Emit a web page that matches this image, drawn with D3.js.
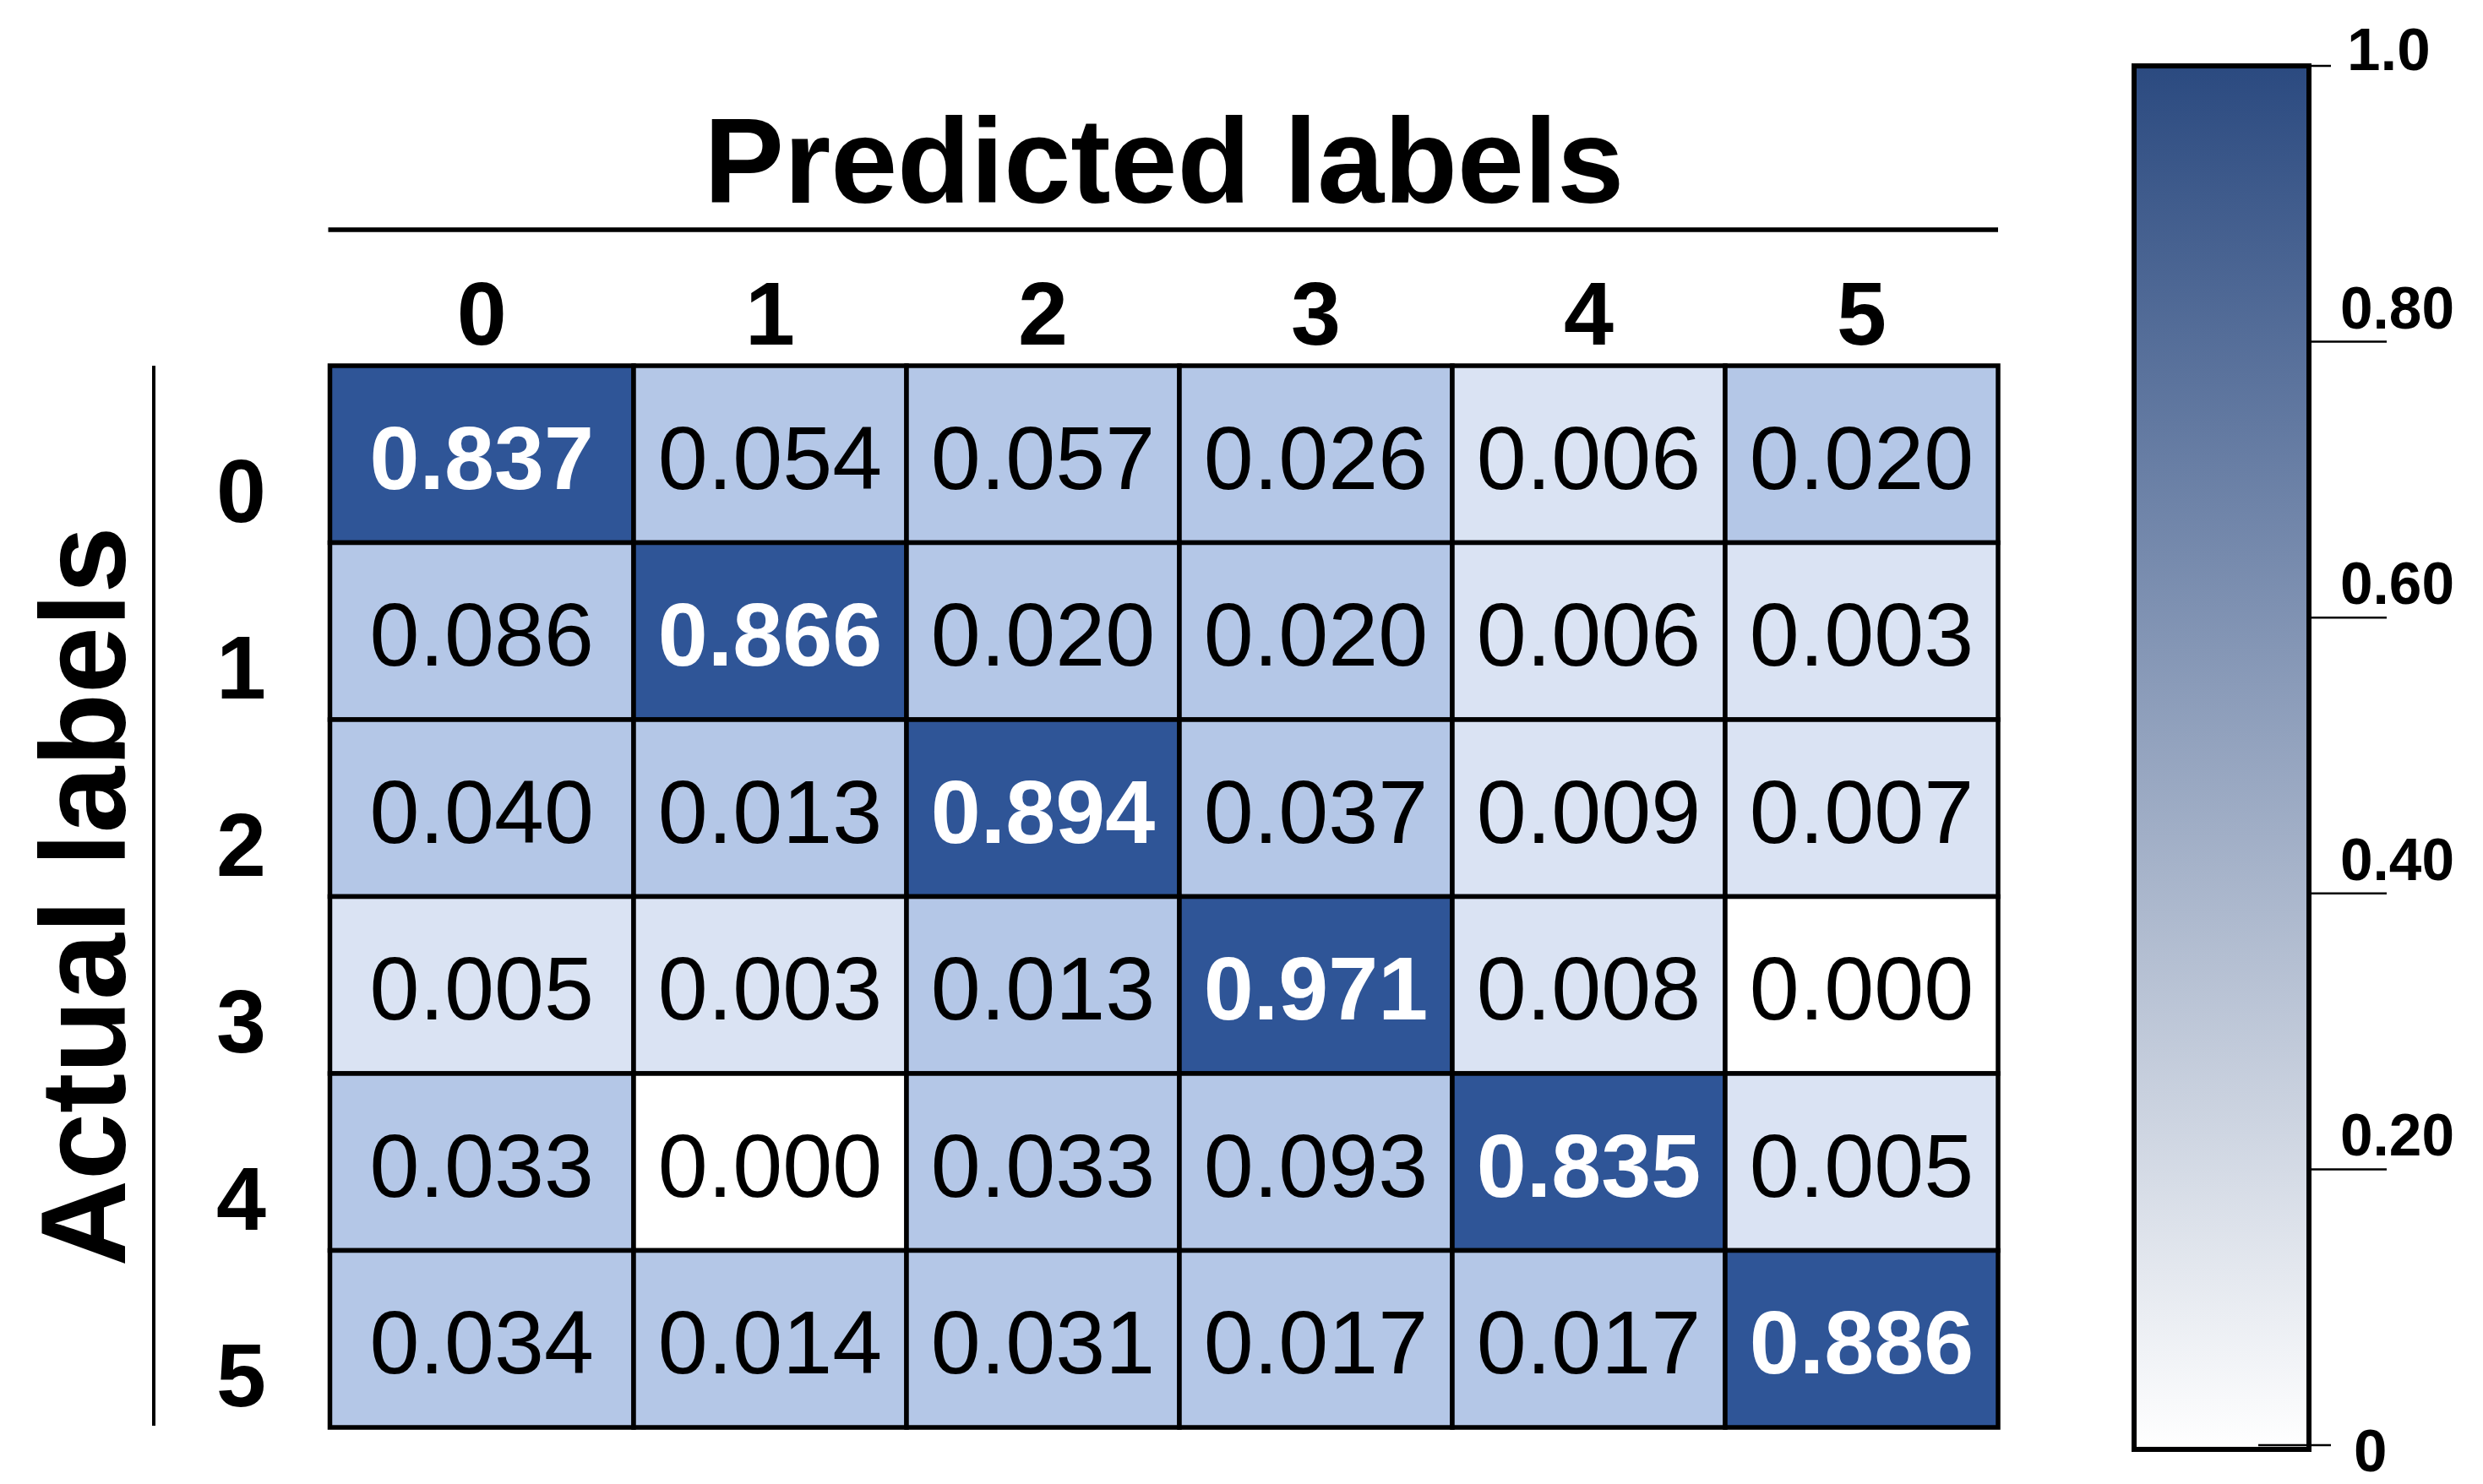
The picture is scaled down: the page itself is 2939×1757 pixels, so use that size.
<!DOCTYPE html>
<html>
<head>
<meta charset="utf-8">
<script src="https://cdn.jsdelivr.net/npm/d3@7"></script>
<style>
  html, body { margin: 0; padding: 0; background: #ffffff; }
  svg { display: block; }
  text { font-family: "Liberation Sans", Arial, sans-serif; }
</style>
</head>
<body>
<script>
// ---------------- data ----------------
const predictedLabels = ["0", "1", "2", "3", "4", "5"];
const actualLabels = ["0", "1", "2", "3", "4", "5"];
const row0 = [0.837, 0.054, 0.057, 0.026, 0.006, 0.020];
const row1 = [0.086, 0.866, 0.020, 0.020, 0.006, 0.003];
const row2 = [0.040, 0.013, 0.894, 0.037, 0.009, 0.007];
const row3 = [0.005, 0.003, 0.013, 0.971, 0.008, 0.000];
const row4 = [0.033, 0.000, 0.033, 0.093, 0.835, 0.005];
const row5 = [0.034, 0.014, 0.031, 0.017, 0.017, 0.886];
const matrixRows = [row0, row1, row2, row3, row4, row5];
const colorbarTicks = [0, 0.2, 0.4, 0.6, 0.8, 1.0];
const colorbarTickLabels = ["0", "0.20", "0.40", "0.60", "0.80", "1.0"];
const xTitle = "Predicted labels";
const yTitle = "Actual labels";

// ---------------- layout ----------------
const W = 2939, H = 1757;
const grid = { left: 390.5, right: 2365, top: 433, bottom: 1690 };
const colWeights = [1.113, 1, 1, 1, 1, 1]; // first column is drawn slightly wider in the reference
const FONT = 106;

const svg = d3.select("body").append("svg").attr("width", W).attr("height", H);

const colStart = d3.cumsum([0].concat(colWeights.slice(0, -1)));
const xLin = d3.scaleLinear().domain([0, d3.sum(colWeights)]).range([grid.left, grid.right]);
const x0 = d3.scaleOrdinal().domain(predictedLabels).range(colStart.map(v => xLin(v)));
const xw = d3.scaleOrdinal().domain(predictedLabels).range(colWeights.map(w => xLin(w) - xLin(0)));
const y = d3.scaleBand().domain(actualLabels).range([grid.top, grid.bottom]);

const color = d3.scaleThreshold()
  .domain([0.0005, 0.01, 0.5])
  .range(["#ffffff", "#dae3f3", "#b4c7e7", "#2f5597"]);

const cells = [];
matrixRows.forEach((r, i) => r.forEach((v, j) => cells.push({ a: actualLabels[i], p: predictedLabels[j], v })));

const g = svg.append("g");
g.selectAll("rect.cell").data(cells).join("rect")
  .attr("class", "cell")
  .attr("x", d => x0(d.p))
  .attr("y", d => y(d.a))
  .attr("width", d => xw(d.p))
  .attr("height", y.bandwidth())
  .attr("fill", d => color(d.v))
  .attr("stroke", "#000")
  .attr("stroke-width", 5.5);

g.selectAll("text.val").data(cells).join("text")
  .attr("class", "val")
  .attr("x", d => x0(d.p) + xw(d.p) / 2)
  .attr("y", d => y(d.a) + y.bandwidth() / 2 + 41)
  .attr("text-anchor", "middle")
  .attr("font-size", FONT)
  .attr("font-weight", d => d.v >= 0.5 ? "bold" : "normal")
  .attr("fill", d => d.v >= 0.5 ? "#ffffff" : "#000000")
  .text(d => d3.format(".3f")(d.v));

// column header labels
svg.selectAll("text.colLab").data(predictedLabels).join("text")
  .attr("class", "colLab")
  .attr("x", d => x0(d) + xw(d) / 2)
  .attr("y", grid.top - 25)
  .attr("text-anchor", "middle")
  .attr("font-size", FONT)
  .attr("font-weight", "bold")
  .text(d => d);

// row labels
svg.selectAll("text.rowLab").data(actualLabels).join("text")
  .attr("class", "rowLab")
  .attr("x", 285.5)
  .attr("y", d => y(d) + y.bandwidth() / 2 + 80)
  .attr("text-anchor", "middle")
  .attr("font-size", FONT)
  .attr("font-weight", "bold")
  .text(d => d);

// title + underline
svg.append("text")
  .attr("x", (grid.left + grid.right) / 2)
  .attr("y", 240)
  .attr("text-anchor", "middle")
  .attr("font-size", 142)
  .attr("font-weight", "bold")
  .text(xTitle);
svg.append("line")
  .attr("x1", grid.left - 2).attr("x2", grid.right)
  .attr("y1", 272).attr("y2", 272)
  .attr("stroke", "#000").attr("stroke-width", 5.5);

// y title + side line
svg.append("text")
  .attr("transform", `translate(148, ${(grid.top + grid.bottom) / 2}) rotate(-90)`)
  .attr("text-anchor", "middle")
  .attr("font-size", 142)
  .attr("font-weight", "bold")
  .text(yTitle);
svg.append("line")
  .attr("x1", 182).attr("x2", 182)
  .attr("y1", grid.top).attr("y2", grid.bottom - 2)
  .attr("stroke", "#000").attr("stroke-width", 4);

// ---------------- colour bar ----------------
const cb = { x: 2526, w: 207, top: 78, bottom: 1716 };
const defs = svg.append("defs");
const grad = defs.append("linearGradient").attr("id", "cbGrad")
  .attr("x1", 0).attr("y1", 1).attr("x2", 0).attr("y2", 0);
grad.append("stop").attr("offset", "0%").attr("stop-color", "#ffffff");
grad.append("stop").attr("offset", "100%").attr("stop-color", "#2b4a80");

svg.append("rect")
  .attr("x", cb.x).attr("y", cb.top)
  .attr("width", cb.w).attr("height", cb.bottom - cb.top)
  .attr("fill", "url(#cbGrad)")
  .attr("stroke", "#000").attr("stroke-width", 6);

const cbScale = d3.scaleLinear().domain([0, 1]).range([1711, 78]);
const lastIdx = colorbarTicks.length - 1;
const isEnd = i => i === 0 || i === lastIdx;
const tickG = svg.append("g");
tickG.selectAll("line").data(colorbarTicks).join("line")
  .attr("x1", (d, i) => i === 0 ? cb.x + cb.w - 60 : cb.x + cb.w)
  .attr("x2", (d, i) => isEnd(i) ? cb.x + cb.w + 26 : cb.x + cb.w + 92)
  .attr("y1", d => cbScale(d)).attr("y2", d => cbScale(d))
  .attr("stroke", "#000").attr("stroke-width", 2.5);

const maxLabelW = 135;
tickG.selectAll("text").data(colorbarTicks).join("text")
  .attr("x", (d, i) => i === 0 ? 2786 : i === lastIdx ? 2778 : 2770)
  .attr("y", (d, i) => i === 0 ? cbScale(d) + 31 : i === lastIdx ? cbScale(d) + 5 : cbScale(d) - 16)
  .attr("font-size", 71)
  .attr("font-weight", "bold")
  .text((d, i) => colorbarTickLabels[i])
  .each(function () {
    const len = this.getComputedTextLength();
    if (len > maxLabelW) {
      d3.select(this).attr("textLength", maxLabelW).attr("lengthAdjust", "spacingAndGlyphs");
    }
  });
</script>
</body>
</html>
